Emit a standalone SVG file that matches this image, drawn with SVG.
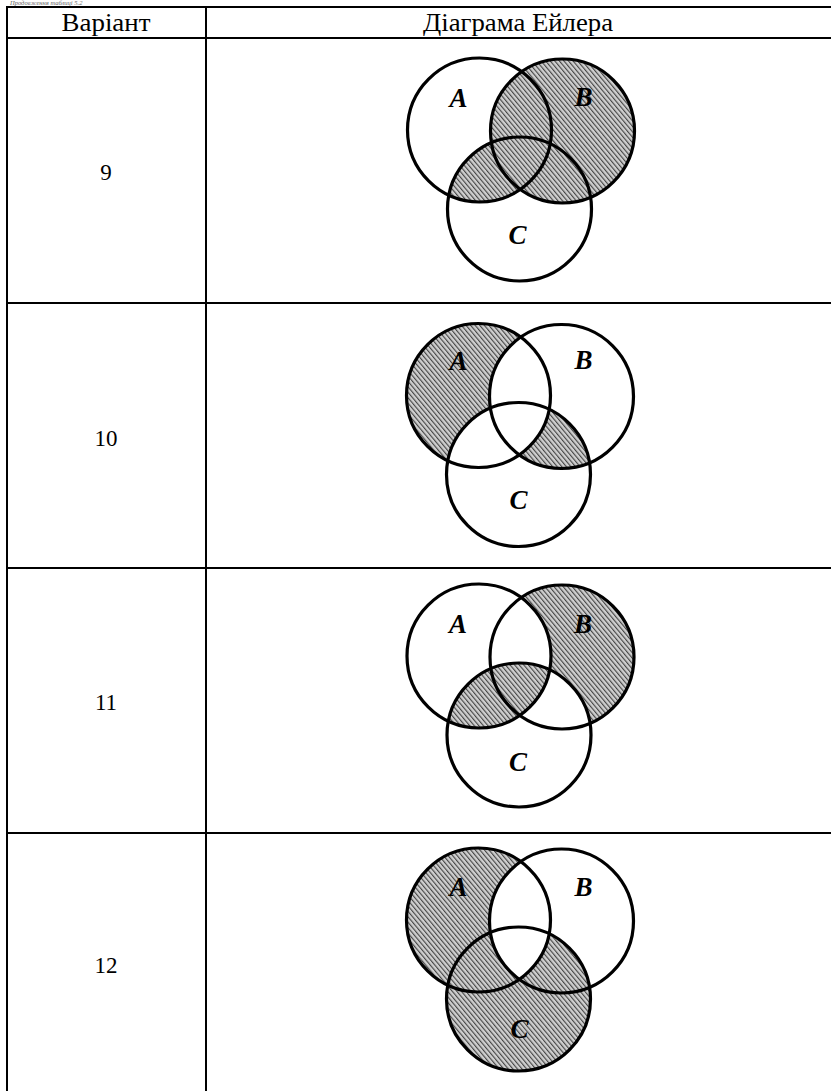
<svg xmlns="http://www.w3.org/2000/svg" xmlns:xlink="http://www.w3.org/1999/xlink" width="831" height="1091" viewBox="0 0 831 1091">
<style>
.tbl{stroke:#000;stroke-width:2;fill:none}
.hd{font-family:"Liberation Serif",serif;font-size:25px;fill:#000;text-anchor:middle}
.num{font-family:"Liberation Serif",serif;font-size:23px;fill:#000;text-anchor:middle}
.lbl{font-family:"Liberation Serif",serif;font-size:27px;font-style:italic;font-weight:bold;fill:#000;text-anchor:middle}
.ring{fill:none;stroke:#000;stroke-width:3.2}
.cap{font-family:"Liberation Serif",serif;font-size:6.5px;font-style:italic;fill:#666}
</style>
<defs>
<pattern id="hatch" patternUnits="userSpaceOnUse" width="3.5" height="3.5" patternTransform="rotate(-40)">
<rect x="0" y="0" width="3.5" height="3.5" fill="#cfcfcf"/>
<line x1="0.6" y1="-1" x2="0.6" y2="5" stroke="#333" stroke-width="1"/>
</pattern>
<circle id="A" cx="0" cy="0" r="72"/>
<circle id="B" cx="83" cy="1" r="72"/>
<circle id="C" cx="40" cy="79" r="72"/>
<clipPath id="clipC"><circle cx="40" cy="79" r="72"/></clipPath>
<mask id="notA" maskUnits="userSpaceOnUse" x="-200" y="-200" width="500" height="500">
<rect x="-200" y="-200" width="500" height="500" fill="#fff"/>
<circle cx="0" cy="0" r="72" fill="#000"/>
</mask>
<mask id="notB" maskUnits="userSpaceOnUse" x="-200" y="-200" width="500" height="500">
<rect x="-200" y="-200" width="500" height="500" fill="#fff"/>
<circle cx="83" cy="1" r="72" fill="#000"/>
</mask>
<mask id="notBC" maskUnits="userSpaceOnUse" x="-200" y="-200" width="500" height="500">
<rect x="-200" y="-200" width="500" height="500" fill="#fff"/>
<circle cx="83" cy="1" r="72" fill="#000"/>
<circle cx="40" cy="79" r="72" fill="#000"/>
</mask>
<mask id="notAC" maskUnits="userSpaceOnUse" x="-200" y="-200" width="500" height="500">
<rect x="-200" y="-200" width="500" height="500" fill="#fff"/>
<circle cx="0" cy="0" r="72" fill="#000"/>
<circle cx="40" cy="79" r="72" fill="#000"/>
</mask>
</defs>

<text class="cap" x="10" y="5">Продовження таблиці 5.2</text>

<g id="table">
<line class="tbl" x1="7" y1="7" x2="831" y2="7"/>
<line class="tbl" x1="7" y1="38" x2="831" y2="38"/>
<line class="tbl" x1="7" y1="303" x2="831" y2="303"/>
<line class="tbl" x1="7" y1="568" x2="831" y2="568"/>
<line class="tbl" x1="7" y1="833" x2="831" y2="833"/>
<line class="tbl" x1="7" y1="6" x2="7" y2="1091"/>
<line class="tbl" x1="206" y1="6" x2="206" y2="1091"/>
</g>

<g id="header">
<text class="hd" x="106" y="31" textLength="89" lengthAdjust="spacingAndGlyphs">Варіант</text>
<text class="hd" x="518" y="31" textLength="190" lengthAdjust="spacingAndGlyphs">Діаграма Ейлера</text>
</g>

<g id="row9">
<text class="num" x="106" y="180">9</text>
<g transform="translate(479.5,130)">
<use xlink:href="#B" fill="url(#hatch)"/>
<use xlink:href="#A" fill="url(#hatch)" clip-path="url(#clipC)"/>
<use xlink:href="#A" class="ring"/><use xlink:href="#B" class="ring"/><use xlink:href="#C" class="ring"/>
<text class="lbl" x="-21" y="-23">A</text>
<text class="lbl" x="104" y="-24">B</text>
<text class="lbl" x="38" y="114">C</text>
</g>
</g>

<g id="row10">
<text class="num" x="106" y="446">10</text>
<g transform="translate(478.5,395.5)">
<use xlink:href="#A" fill="url(#hatch)" mask="url(#notBC)"/>
<use xlink:href="#B" fill="url(#hatch)" clip-path="url(#clipC)" mask="url(#notA)"/>
<use xlink:href="#A" class="ring"/><use xlink:href="#B" class="ring"/><use xlink:href="#C" class="ring"/>
<text class="lbl" x="-20" y="-26">A</text>
<text class="lbl" x="105" y="-27">B</text>
<text class="lbl" x="40" y="113">C</text>
</g>
</g>

<g id="row11">
<text class="num" x="106" y="710">11</text>
<g transform="translate(479,656)">
<use xlink:href="#B" fill="url(#hatch)" mask="url(#notAC)"/>
<use xlink:href="#A" fill="url(#hatch)" clip-path="url(#clipC)"/>
<use xlink:href="#A" class="ring"/><use xlink:href="#B" class="ring"/><use xlink:href="#C" class="ring"/>
<text class="lbl" x="-21" y="-23">A</text>
<text class="lbl" x="104" y="-23">B</text>
<text class="lbl" x="39" y="115">C</text>
</g>
</g>

<g id="row12">
<text class="num" x="106" y="973">12</text>
<g transform="translate(478.5,920)">
<use xlink:href="#A" fill="url(#hatch)" mask="url(#notB)"/>
<use xlink:href="#C" fill="url(#hatch)" mask="url(#notA)"/>
<use xlink:href="#A" class="ring"/><use xlink:href="#B" class="ring"/><use xlink:href="#C" class="ring"/>
<text class="lbl" x="-20" y="-24">A</text>
<text class="lbl" x="105" y="-24">B</text>
<text class="lbl" x="41" y="118">C</text>
</g>
</g>
</svg>
